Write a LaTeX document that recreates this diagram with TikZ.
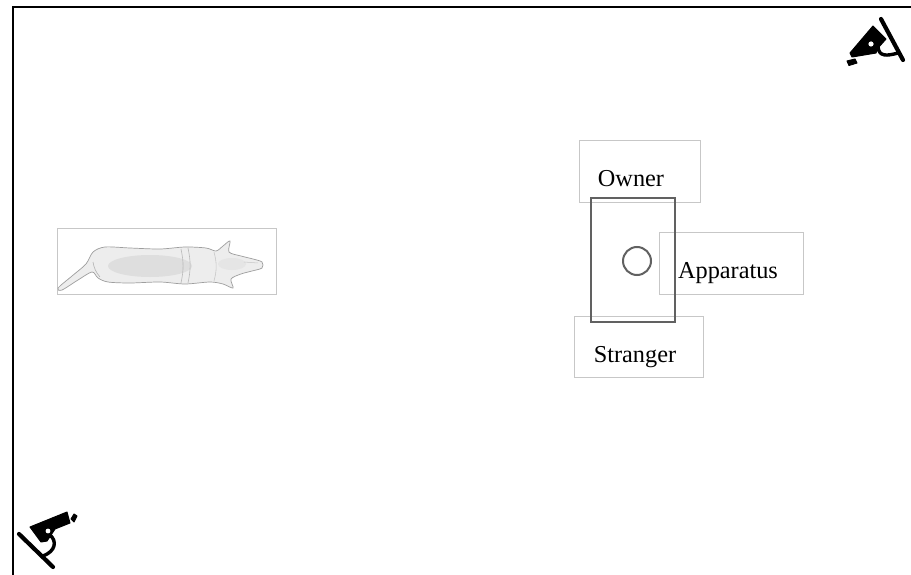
\documentclass[tikz,border=0pt]{standalone}
\usepackage{fontspec}
\setmainfont{Liberation Serif}
\begin{document}
\begin{tikzpicture}[x=1pt,y=-1pt,
  labelbox/.style={draw=black!22,line width=0.9pt,rectangle,inner sep=0pt},
  lbl/.style={font=\fontsize{24.3}{26}\selectfont,inner sep=0pt,anchor=base},
  cam/.style={fill=black,draw=black,line width=1pt,line join=round},
  campole/.style={line width=4.2pt,line cap=round},
  cambracket/.style={line width=3.4pt,line cap=round}]
\useasboundingbox (0,0) rectangle (911,575);
\fill[white] (0,0) rectangle (911,575);

% arena walls
\coordinate (wallTR) at (911,7);
\coordinate (wallC) at (13,7);
\coordinate (wallBL) at (13,575);
\draw[line width=2.4pt] (wallTR) -- (wallC) -- (wallBL);

% dog picture frame
\node[labelbox,minimum width=219pt,minimum height=66pt] (dogbox) at (166.5,261) {};

% dog seen from above
\def\dogoutline{plot[smooth cycle,tension=0.5] coordinates {
 (58,288) (72,276) (86,264) (93,252) (105,247) (130,248) (160,249) (185,247)
 (206,248) (216,251) (223,246) (230,241) (229,252) (241,256) (253,259) (262,262)
 (262,268) (252,271) (241,274) (231,279) (233,288) (223,284) (210,282) (185,284)
 (160,282) (130,283) (108,282) (98,278) (92,272) (78,280) (62,290)}}
\fill[black!7] \dogoutline;
\fill[black!13] (150,266) ellipse (42pt and 11pt);
\fill[black!10] (232,264) ellipse (14pt and 6pt);
\draw[black!38,line width=0.7pt] \dogoutline;
\draw[black!28,line width=0.6pt] (181,249) to[bend left=12] (181,283);
\draw[black!28,line width=0.6pt] (188,248) to[bend left=12] (188,283);
\draw[black!22,line width=0.6pt] (214,252) to[bend left=15] (214,281);
\draw[black!22,line width=0.5pt] (244,262) -- (258,263);
\draw[black!30,line width=0.6pt] (93,262) to[bend right=15] (100,277);

% role boxes
\node[labelbox,minimum width=121pt,minimum height=62pt] (ownerbox) at (639.5,171) {};
\node[labelbox,minimum width=144pt,minimum height=62pt] (appbox) at (731,263) {};
\node[labelbox,minimum width=129pt,minimum height=61pt] (strbox) at (638.5,346.5) {};

% apparatus area and its hole
\node[draw=black!62,line width=2.4pt,rectangle,minimum width=84pt,minimum height=124pt,inner sep=0pt] (area) at (633,260) {};
\node[draw=black!62,line width=2pt,circle,minimum size=28pt,inner sep=0pt] (hole) at (637,261) {};

% labels
\node[lbl] (owner) at (631,187) {Owner};
\node[lbl] (apparatus) at (728,278) {Apparatus};
\node[lbl] (stranger) at (635,362) {Stranger};

% camera, top right
\draw[campole] (881,19) -- (903,60);
\filldraw[cam] (850,53) -- (873,26) -- (886,39) -- (878,48) -- (876,53) -- (852,57) -- cycle;
\fill[white] (871,44) circle (2.6pt);
\filldraw[cam] (847,61) -- (855,59) -- (857,63) -- (849,65.5) -- cycle;
\draw[cambracket] (878,47) .. controls (879,57) and (887,56) .. (898,53);

% camera, bottom left
\draw[campole] (19,534) -- (53,567);
\filldraw[cam] (30,527) -- (67,512) -- (70,523) -- (55,529) -- (47,541) -- (41,542) -- cycle;
\fill[white] (48,531) circle (2.4pt);
\filldraw[cam] (71,519) -- (74,514) -- (77,516) -- (74,522) -- cycle;
\draw[cambracket] (50,535) .. controls (57,541) and (56,551) .. (43,556);
\end{tikzpicture}
\end{document}
